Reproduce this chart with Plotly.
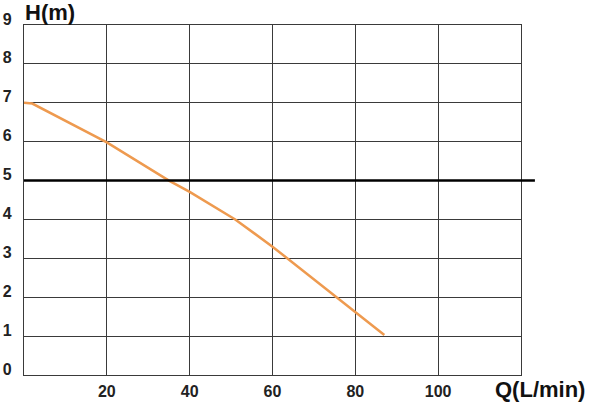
import plotly.graph_objects as go

# data
flow_q = [0, 2, 20, 35, 40, 51, 60, 80, 87]
head_h = [7.0, 6.98, 5.98, 5.0, 4.71, 4.0, 3.3, 1.63, 1.03]
x_ticks = [20, 40, 60, 80, 100]
y_ticks = [0, 1, 2, 3, 4, 5, 6, 7, 8, 9]
ref_head = 5

font_bold = "Liberation Sans, Arial, sans-serif"

fig = go.Figure()
fig.add_trace(go.Scatter(
    x=flow_q, y=head_h, mode="lines",
    line=dict(color="#EE9A4F", width=2.5),
    showlegend=False, hoverinfo="skip"))

fig.add_shape(type="line", xref="paper", yref="y",
              x0=0, x1=1.028, y0=ref_head, y1=ref_head,
              line=dict(color="black", width=2.5), layer="above")

axis_common = dict(showgrid=True, gridcolor="#3a3a3a", gridwidth=1.3,
                   showline=True, linecolor="#3a3a3a", linewidth=1.3, mirror=True,
                   zeroline=False, ticks="", automargin=False,
                   tickfont=dict(family=font_bold, size=16, color="#222", weight="bold"))

fig.update_xaxes(range=[0, 120], tickvals=x_ticks, ticklabelstandoff=2, **axis_common)
fig.update_yaxes(range=[0, 9], tickvals=y_ticks, ticklabelstandoff=8,
                 ticklabelshift=-6, **axis_common)

fig.add_annotation(text="<b>H(m)</b>", xref="paper", yref="paper",
                   x=0.0, y=1.0, xanchor="left", yanchor="bottom", xshift=-1, yshift=-2,
                   showarrow=False, font=dict(family=font_bold, size=22, color="#111"))
fig.add_annotation(text="<b>Q(L/min)</b>", xref="paper", yref="paper",
                   x=1.0, y=0.0, xanchor="left", yanchor="top", xshift=-28, yshift=0,
                   showarrow=False, font=dict(family=font_bold, size=22, color="#111"))

fig.update_layout(width=600, height=414,
                  margin=dict(l=24, r=79, t=25, b=39),
                  plot_bgcolor="white", paper_bgcolor="white")

fig.write_html("out.html", config={"displayModeBar": False},
               post_script="document.body.style.margin='0';document.body.style.padding='0';")
